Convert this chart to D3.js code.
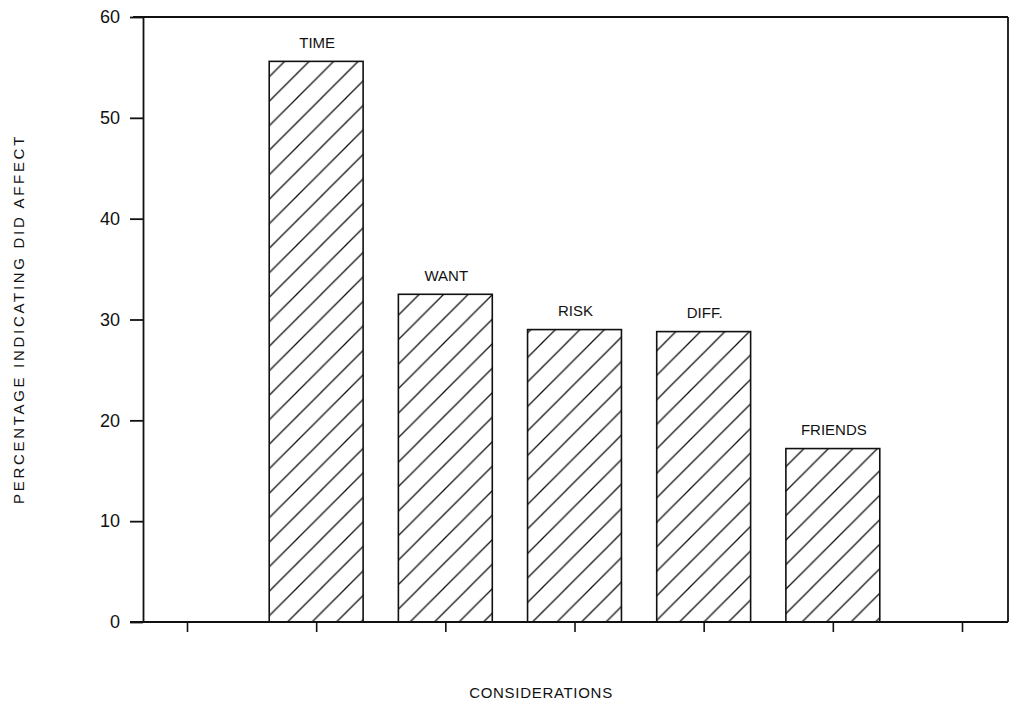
<!DOCTYPE html>
<html>
<head>
<meta charset="utf-8">
<script src="https://cdn.jsdelivr.net/npm/d3@7"></script>
<style>
  html, body { margin: 0; padding: 0; background: #fff; }
  svg { display: block; }
  text { font-family: "Liberation Sans", Arial, sans-serif; fill: #111; }
</style>
</head>
<body>
<svg id="chart" width="1009" height="705"></svg>
<script>
// ---- data ----
const categories = ["TIME", "WANT", "RISK", "DIFF.", "FRIENDS"];
const values = [55.6, 32.5, 29.0, 28.8, 17.2];
const categorySlots = [2, 3, 4, 5, 6];          // slot index on the x axis
const xTickSlots = [1, 2, 3, 4, 5, 6, 7];
const yTicks = [0, 10, 20, 30, 40, 50, 60];
const xTitle = "CONSIDERATIONS";
const yTitle = "PERCENTAGE INDICATING DID AFFECT";

// ---- layout ----
const svg = d3.select("#chart");
const mLeft = 143, mRight = 1008, mTop = 17, mBottom = 622;

const x = d3.scaleLinear().domain([1, 7]).range([187, 962]);
const y = d3.scaleLinear().domain([0, 60]).range([mBottom, mTop]);
const barW = (x(2) - x(1)) * 0.727;

// hatch pattern
const defs = svg.append("defs");
const p = 24.5;
const pat = defs.append("pattern")
  .attr("id", "hatch")
  .attr("patternUnits", "userSpaceOnUse")
  .attr("width", p).attr("height", p)
  .attr("x", 3).attr("y", 0);
pat.append("path")
  .attr("d", `M0,${p} L${p},0 M${-p/2},${p/2} L${p/2},${-p/2} M${p/2},${p*1.5} L${p*1.5},${p/2}`)
  .attr("stroke", "#111").attr("stroke-width", 1.3).attr("fill", "none");

// bars
const bars = svg.append("g");
bars.selectAll("rect")
  .data(values)
  .join("rect")
  .attr("x", (d, i) => x(categorySlots[i]) - barW / 2)
  .attr("y", d => y(d))
  .attr("width", barW)
  .attr("height", d => y(0) - y(d))
  .attr("fill", "url(#hatch)")
  .attr("stroke", "#111")
  .attr("stroke-width", 1.6);

// bar labels
bars.selectAll("text")
  .data(values)
  .join("text")
  .attr("x", (d, i) => x(categorySlots[i]) + 1)
  .attr("y", d => y(d) - 13.5)
  .attr("text-anchor", "middle")
  .attr("font-size", 15)
  .text((d, i) => categories[i]);

// frame: top and right lines
svg.append("line").attr("x1", 133).attr("x2", mRight).attr("y1", mTop).attr("y2", mTop)
  .attr("stroke", "#111").attr("stroke-width", 2);
svg.append("line").attr("x1", mRight).attr("x2", mRight).attr("y1", mTop).attr("y2", mBottom)
  .attr("stroke", "#111").attr("stroke-width", 1.8);

// y axis
const yAxis = svg.append("g")
  .attr("transform", `translate(${mLeft},0)`)
  .call(d3.axisLeft(y).tickValues(yTicks).tickSize(13).tickPadding(10).tickSizeOuter(0));
yAxis.select(".domain").attr("stroke", "#111").attr("stroke-width", 1.8);
yAxis.selectAll(".tick line").attr("stroke", "#111").attr("stroke-width", 1.8);
yAxis.selectAll(".tick text")
  .attr("font-size", 18).attr("font-family", "Liberation Sans, Arial, sans-serif").attr("fill", "#111");

// x axis
const xAxis = svg.append("g")
  .attr("transform", `translate(0,${mBottom})`)
  .call(d3.axisBottom(x).tickValues(xTickSlots).tickSize(10).tickFormat("").tickSizeOuter(0));
xAxis.select(".domain").remove();
xAxis.selectAll(".tick line").attr("stroke", "#111").attr("stroke-width", 1.6);
svg.append("line").attr("x1", 130).attr("x2", mRight).attr("y1", mBottom).attr("y2", mBottom)
  .attr("stroke", "#111").attr("stroke-width", 2);

// titles
svg.append("text")
  .attr("x", 541).attr("y", 698)
  .attr("text-anchor", "middle")
  .attr("font-size", 15)
  .attr("letter-spacing", 0.7)
  .text(xTitle);

svg.append("text")
  .attr("transform", "translate(24,319) rotate(-90)")
  .attr("text-anchor", "middle")
  .attr("font-size", 15)
  .attr("letter-spacing", 2.7)
  .text(yTitle);
</script>
</body>
</html>
